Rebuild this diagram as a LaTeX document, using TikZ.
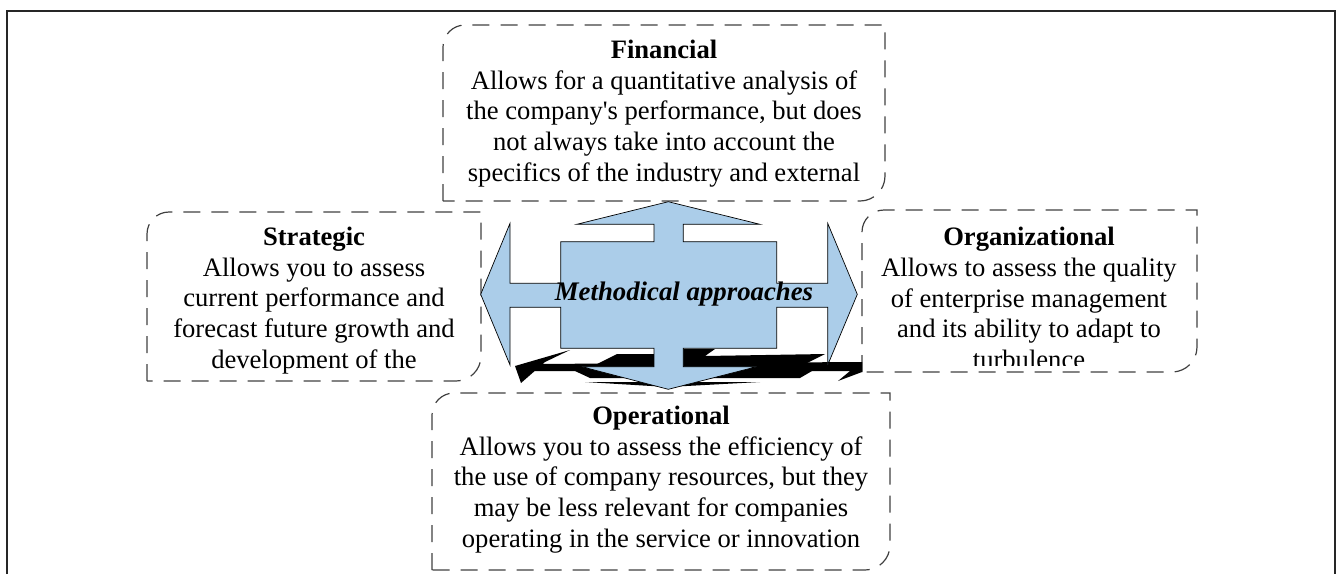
\documentclass[tikz,border=0pt]{standalone}
\usepackage{fontspec}
\setmainfont{Liberation Serif}
\usepackage{tikz}
\usetikzlibrary{positioning,calc}
\definecolor{arrowblue}{RGB}{171,205,233}
\definecolor{framegray}{RGB}{38,38,38}
\tikzset{approach/.style={align=center,inner sep=0pt,font=\fontsize{26.6}{30.6}\selectfont}}
\tikzset{dashbox/.style={draw=black!75,line width=1.2pt,dash pattern=on 17pt off 11pt}}
% box with rounded top-left and bottom-right corners: x1, y1, x2, y2 (pixels, y down)
\newcommand{\approachbox}[4]{%
  \draw[dashbox] (#1,-#4) -- (#1,-#2-22) arc[start angle=180,end angle=90,radius=22pt]
    -- (#3,-#2) -- (#3,-#4+25) arc[start angle=0,end angle=-90,radius=25pt] -- cycle;}

\begin{document}
\begin{tikzpicture}[x=1pt,y=1pt]
        \tikzstyle{shadow}=[fill=black,draw=none]
        \useasboundingbox (0,0) rectangle (1338,-574);
        % outer frame
        \draw[framegray,line width=2.4pt] (7,-574) -- (7,-11) -- (1335,-11) -- (1335,-574);

        % dashed boxes
        \approachbox{443}{25}{885}{201}
        \approachbox{147}{212}{481}{381}
        \approachbox{862}{210}{1197}{372}
        \approachbox{432}{393}{890}{570}

        % shadow under the arrows
        \path[shadow] (515,-366) -- (570,-350) -- (545,-362) -- (521,-383) -- cycle;
        \path[shadow] (532,-364) -- (862,-362) -- (862,-371) -- (528,-371) -- cycle;
        \path[shadow] (862,-362) -- (862,-372) -- (838,-381) -- (850,-371) -- cycle;
        \path[shadow] (597,-364) -- (617,-354) -- (654,-354) -- (654,-364) -- cycle;
        \path[shadow] (683,-364) -- (683,-349) -- (715,-349) -- (705,-356) -- (825,-354) -- (805,-364) -- cycle;
        \path[shadow] (575,-371) -- (812,-371) -- (800,-378) -- (590,-378) -- cycle;
        \path[shadow] (585,-382) -- (760,-382) -- (668,-387) -- cycle;

        % four-way arrow
        \draw[fill=arrowblue,line width=0.7pt] (668.3,-201.7) -- (760,-224.3) -- (683.3,-224.3) -- (683.3,-241.7)
          -- (776.7,-241.7) -- (776.7,-283.3) -- (827.7,-283.3) -- (827.7,-223.3) -- (857.3,-294.3)
          -- (827.7,-365) -- (827.7,-307.3) -- (776.7,-307.3) -- (776.7,-348.3) -- (683.3,-348.3)
          -- (683.3,-366.7) -- (756.7,-366.7) -- (668.3,-389.3) -- (581.7,-366.7) -- (654,-366.7)
          -- (654,-348.3) -- (560.7,-348.3) -- (560.7,-307.3) -- (510,-307.3) -- (510,-365)
          -- (480.7,-294.3) -- (510,-223.3) -- (510,-283.3) -- (560.7,-283.3) -- (560.7,-241.7)
          -- (654,-241.7) -- (654,-224.3) -- (576.7,-224.3) -- cycle;
        \node[font=\fontsize{26.8}{30}\selectfont\bfseries\itshape] (methods) at (684,-294) {Methodical approaches};

        % texts
        \node[approach] (financial) at (664,-113.5) {\textbf{Financial}\\Allows for a quantitative analysis of\\the company\textquotesingle s performance, but does\\not always take into account the\\specifics of the industry and external};
        \node[approach] (strategic) at (314,-300.5) {\textbf{Strategic}\\Allows you to assess\\current performance and\\forecast future growth and\\development of the};
        \begin{scope}
          \clip (850,-200) rectangle (1210,-365);
          \node[approach] (organizational) at (1029,-298) {\textbf{Organizational}\\Allows to assess the quality\\of enterprise management\\and its ability to adapt to\\turbulence};
        \end{scope}
        \node[approach] (operational) at (661,-479.5) {\textbf{Operational}\\Allows you to assess the efficiency of\\the use of company resources, but they\\may be less relevant for companies\\operating in the service or innovation};
\end{tikzpicture}
\end{document}
